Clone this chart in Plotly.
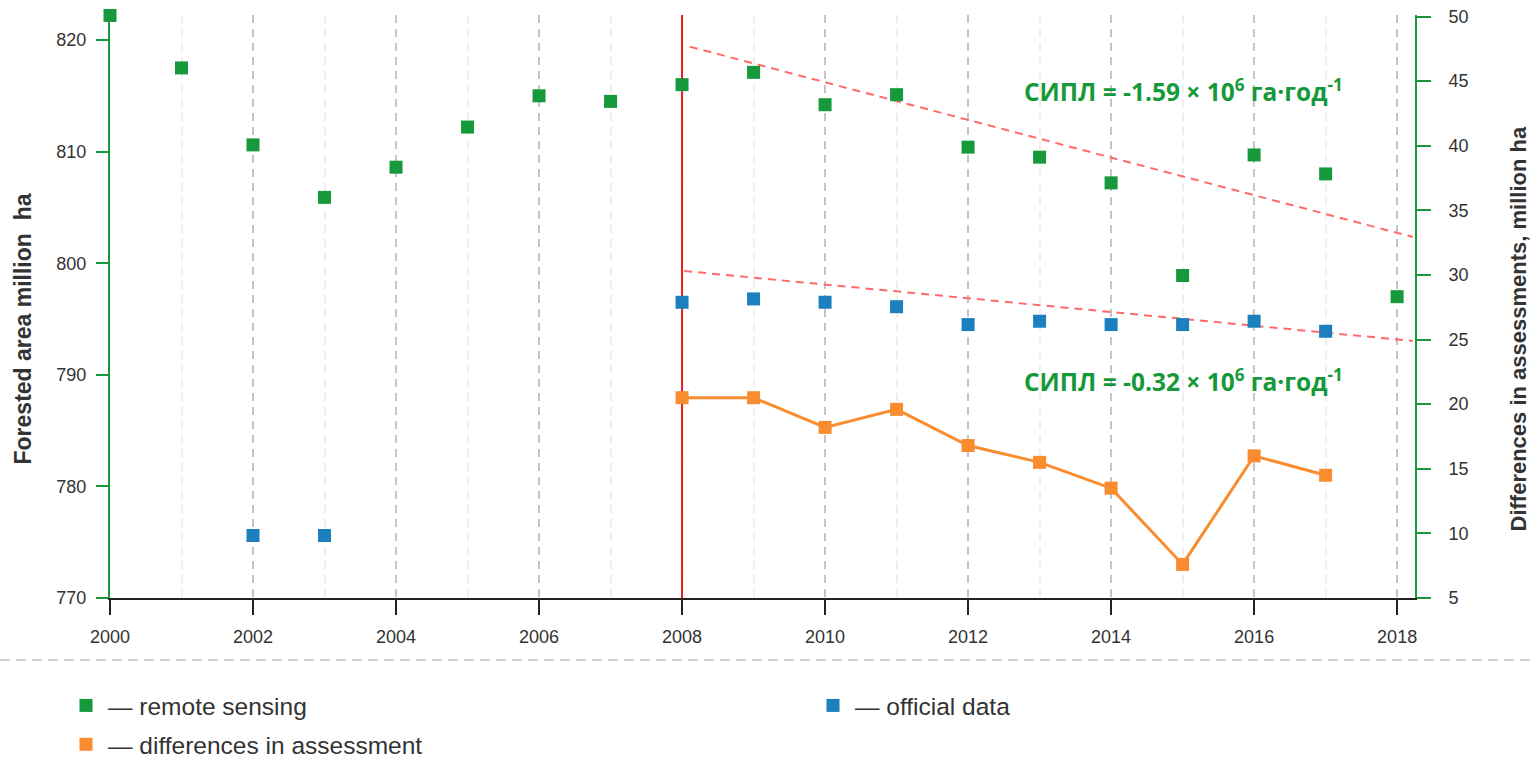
import plotly.graph_objects as go

# ---------------- data ----------------
years = list(range(2000, 2019))
remote_sensing = [822.2, 817.5, 810.6, 805.9, 808.6, 812.2, 815.0, 814.5, 816.0, 817.1,
                  814.2, 815.1, 810.4, 809.5, 807.2, 798.9, 809.7, 808.0, 797.0]

official_years = [2002, 2003, 2008, 2009, 2010, 2011, 2012, 2013, 2014, 2015, 2016, 2017]
official_data = [775.6, 775.6, 796.5, 796.8, 796.5, 796.1, 794.5, 794.8, 794.5, 794.5, 794.8, 793.9]

diff_years = [2008, 2009, 2010, 2011, 2012, 2013, 2014, 2015, 2016, 2017]
differences = [20.5, 20.5, 18.2, 19.6, 16.8, 15.5, 13.5, 7.6, 16.0, 14.5]

trend_rs_x = [2008.11, 2018.22]
trend_rs_y = [819.4, 802.35]
trend_of_x = [2008.03, 2018.22]
trend_of_y = [799.3, 793.03]

split_year = 2008
x_range = [2000, 2018.25]
left_range = [770, 822.24]
right_range = [5, 50.12]
x_ticks = list(range(2000, 2019, 2))
left_ticks = [770, 780, 790, 800, 810, 820]
right_ticks = [5, 10, 15, 20, 25, 30, 35, 40, 45, 50]

label_rs = "СИПЛ = -1.59 × 10<sup>6</sup> га·год<sup>-1</sup>"
label_of = "СИПЛ = -0.32 × 10<sup>6</sup> га·год<sup>-1</sup>"
left_title = "Forested area million\u00a0\u00a0ha"
right_title = "Differences in assessments, million ha"

# ---------------- style ----------------
GREEN = "#16993a"
BLUE = "#1b80bd"
ORANGE = "#f98c2f"
RED = "#ee1c1c"
TREND = "#ff6b6b"
TXT = "#333333"
FONT = "Liberation Sans, Arial, sans-serif"

W, H = 1536, 757
ML, MR, MT, MB = 110, 121, 15, 159
PW = W - ML - MR
PH = H - MT - MB


def px_x(p):
    return (p - ML) / PW


def px_y(p):
    return (H - MB - p) / PH


fig = go.Figure()

# vertical red line at the split year (spans the full left axis)
fig.add_trace(go.Scatter(x=[split_year, split_year], y=left_range, mode="lines", showlegend=False,
                         line=dict(color=RED, width=2), hoverinfo="skip"))

# trend lines
fig.add_trace(go.Scatter(x=trend_rs_x, y=trend_rs_y, mode="lines", showlegend=False,
                         line=dict(color=TREND, width=2, dash="8px,6px"), hoverinfo="skip"))
fig.add_trace(go.Scatter(x=trend_of_x, y=trend_of_y, mode="lines", showlegend=False,
                         line=dict(color=TREND, width=2, dash="8px,6px"), hoverinfo="skip"))

marker_common = dict(symbol="square", size=13)

fig.add_trace(go.Scatter(x=years, y=remote_sensing, mode="markers", name="— remote sensing",
                         marker=dict(color=GREEN, **marker_common), legend="legend",
                         legendgroup="a", cliponaxis=False))
fig.add_trace(go.Scatter(x=official_years, y=official_data, mode="markers", name="— official data",
                         marker=dict(color=BLUE, **marker_common), legend="legend2",
                         legendgroup="c", cliponaxis=False))

# differences line (no legend) + markers
fig.add_trace(go.Scatter(x=diff_years, y=differences, mode="lines", yaxis="y2", showlegend=False,
                         line=dict(color=ORANGE, width=3)))
fig.add_trace(go.Scatter(x=diff_years, y=differences, mode="markers", yaxis="y2",
                         name="— differences in assessment",
                         marker=dict(color=ORANGE, **marker_common), legend="legend",
                         legendgroup="b"))

fig.update_layout(
    width=W, height=H,
    margin=dict(l=ML, r=MR, t=MT, b=MB, autoexpand=False),
    paper_bgcolor="white", plot_bgcolor="white",
    font=dict(family=FONT, size=18, color=TXT),
    xaxis=dict(
        range=x_range, tickmode="array", tickvals=x_ticks,
        showline=True, linecolor="#222222", linewidth=2,
        ticks="outside", ticklen=15, tickwidth=2, tickcolor="#222222",
        ticklabelstandoff=6,
        showgrid=True, gridcolor="#c4c4c4", gridwidth=2, griddash="8px,6px",
        minor=dict(dtick=1, tick0=2000, showgrid=True, gridcolor="#eeeeee",
                   gridwidth=2, griddash="8px,6px"),
        zeroline=False, tickfont=dict(size=18, color=TXT),
    ),
    yaxis=dict(
        range=left_range, tickmode="array", tickvals=left_ticks,
        showline=True, linecolor=GREEN, linewidth=2,
        ticks="outside", ticklen=12, tickwidth=2, tickcolor=GREEN,
        ticklabelstandoff=6,
        showgrid=False, zeroline=False, tickfont=dict(size=18, color=TXT),
    ),
    yaxis2=dict(
        range=right_range, overlaying="y", side="right", anchor="x",
        tickmode="array", tickvals=right_ticks,
        showline=True, linecolor=GREEN, linewidth=2,
        ticks="outside", ticklen=14, tickwidth=2, tickcolor=GREEN,
        ticklabelstandoff=14,
        showgrid=False, zeroline=False, tickfont=dict(size=18, color=TXT),
    ),
    legend=dict(
        orientation="v", x=px_x(64), xanchor="left", y=px_y(683), yanchor="top",
        font=dict(size=24.5, color=TXT, family=FONT), traceorder="grouped",
        tracegroupgap=4, itemwidth=34, bgcolor="rgba(0,0,0,0)", borderwidth=0,
    ),
    legend2=dict(
        orientation="v", x=px_x(811), xanchor="left", y=px_y(683), yanchor="top",
        font=dict(size=24.5, color=TXT, family=FONT), itemwidth=34,
        bgcolor="rgba(0,0,0,0)", borderwidth=0,
    ),
    showlegend=True,
)

# dashed separator above legend
fig.add_shape(type="line", xref="paper", yref="paper", x0=px_x(0), x1=px_x(W),
              y0=px_y(660), y1=px_y(660), line=dict(color="#d0d0d0", width=2, dash="10px,6px"))

# axis titles
title_font = dict(family="Liberation Sans, Arial", color=TXT, weight="bold")
fig.add_annotation(x=px_x(22), y=px_y(329.5), xref="paper", yref="paper", text=left_title,
                   textangle=-90, showarrow=False, xanchor="center", yanchor="middle",
                   font=dict(size=23, **title_font))
fig.add_annotation(x=px_x(1518), y=px_y(328.5), xref="paper", yref="paper", text=right_title,
                   textangle=-90, showarrow=False, xanchor="center", yanchor="middle",
                   font=dict(size=22, **title_font))

ann_font = dict(family="Open Sans, Noto Sans, sans-serif", size=24.5, color=GREEN, weight="bold")
fig.add_annotation(x=2012.75, y=815.5, xref="x", yref="y", text=label_rs, showarrow=False,
                   xanchor="left", yanchor="middle", font=ann_font)
fig.add_annotation(x=2012.75, y=789.45, xref="x", yref="y", text=label_of, showarrow=False,
                   xanchor="left", yanchor="middle", font=ann_font)

fig.write_html("out.html", post_script="document.body.style.margin='0';",
               config={"displayModeBar": False})
